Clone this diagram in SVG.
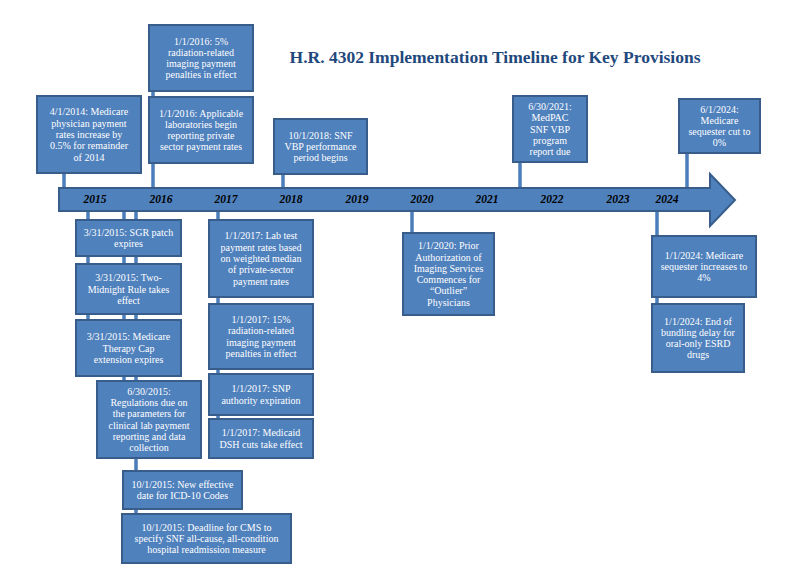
<svg xmlns="http://www.w3.org/2000/svg" width="788" height="576" viewBox="0 0 788 576">
<style>
.bg{fill:#ffffff}
.box{fill:#4F81BD;stroke:#385D8A;stroke-width:2}
.t{font-family:"Liberation Serif","Times New Roman",serif;font-size:10px;fill:#ffffff;text-anchor:middle}
.yr{font-family:"Liberation Serif","Times New Roman",serif;font-size:11.5px;font-weight:bold;font-style:italic;fill:#000000;text-anchor:middle}
.title{font-family:"Liberation Serif","Times New Roman",serif;font-size:17.5px;font-weight:bold;fill:#1F497D;text-anchor:middle}
.conn line{stroke:#4A7DBA;stroke-width:3.5}
.arrow{fill:#4F81BD;stroke:#385D8A;stroke-width:2}
</style>
<rect class="bg" x="0" y="0" width="788" height="576"/>
<text class="title" x="495" y="63">H.R. 4302 Implementation Timeline for Key Provisions</text>
<g id="connectors" class="conn">
<line x1="64" y1="173" x2="64" y2="190"/>
<line x1="153" y1="91" x2="153" y2="190"/>
<line x1="283" y1="174" x2="283" y2="190"/>
<line x1="520" y1="162" x2="520" y2="190"/>
<line x1="687" y1="153" x2="687" y2="190"/>
<line x1="88" y1="209" x2="88" y2="320"/>
<line x1="124" y1="209" x2="124" y2="381"/>
<line x1="136" y1="209" x2="136" y2="514"/>
<line x1="218" y1="209" x2="218" y2="419"/>
<line x1="412" y1="209" x2="412" y2="233"/>
<line x1="657" y1="209" x2="657" y2="304"/>
</g>
<g id="timeline">
<path class="arrow" d="M59,188 L710,188 L710,174 L735,200 L710,226 L710,211 L59,211 Z"/>
<text class="yr" x="95" y="203">2015</text>
<text class="yr" x="161" y="203">2016</text>
<text class="yr" x="226" y="203">2017</text>
<text class="yr" x="291" y="203">2018</text>
<text class="yr" x="357" y="203">2019</text>
<text class="yr" x="422" y="203">2020</text>
<text class="yr" x="487" y="203">2021</text>
<text class="yr" x="552" y="203">2022</text>
<text class="yr" x="618" y="203">2023</text>
<text class="yr" x="667" y="203">2024</text>
</g>
<g id="n2014">
<rect class="box" x="37" y="96" width="104" height="77"/>
<text class="t"><tspan x="89" y="115.4">4/1/2014: Medicare</tspan><tspan x="89" y="126.7">physician payment</tspan><tspan x="89" y="138">rates increase by</tspan><tspan x="89" y="149.3">0.5% for remainder</tspan><tspan x="89" y="160.6">of 2014</tspan></text>
</g>
<g id="n2016a">
<rect class="box" x="149" y="25" width="104" height="66"/>
<text class="t"><tspan x="201" y="44.55">1/1/2016: 5%</tspan><tspan x="201" y="55.85">radiation-related</tspan><tspan x="201" y="67.15">imaging payment</tspan><tspan x="201" y="78.45">penalties in effect</tspan></text>
</g>
<g id="n2016b">
<rect class="box" x="149" y="97" width="104" height="66"/>
<text class="t"><tspan x="201" y="116.55">1/1/2016: Applicable</tspan><tspan x="201" y="127.85">laboratories begin</tspan><tspan x="201" y="139.15">reporting private</tspan><tspan x="201" y="150.45">sector payment rates</tspan></text>
</g>
<g id="n2018">
<rect class="box" x="274" y="119" width="93" height="55"/>
<text class="t"><tspan x="320.5" y="138.7">10/1/2018: SNF</tspan><tspan x="320.5" y="150">VBP performance</tspan><tspan x="320.5" y="161.3">period begins</tspan></text>
</g>
<g id="n2021">
<rect class="box" x="513" y="96" width="74" height="66"/>
<text class="t"><tspan x="550" y="109.9">6/30/2021:</tspan><tspan x="550" y="121.2">MedPAC</tspan><tspan x="550" y="132.5">SNF VBP</tspan><tspan x="550" y="143.8">program</tspan><tspan x="550" y="155.1">report due</tspan></text>
</g>
<g id="n2024a">
<rect class="box" x="679" y="99" width="81" height="54"/>
<text class="t"><tspan x="719.5" y="112.55">6/1/2024:</tspan><tspan x="719.5" y="123.85">Medicare</tspan><tspan x="719.5" y="135.15">sequester cut to</tspan><tspan x="719.5" y="146.45">0%</tspan></text>
</g>
<g id="nsgr">
<rect class="box" x="76" y="220" width="105" height="36"/>
<text class="t"><tspan x="128.5" y="235.85">3/31/2015: SGR patch</tspan><tspan x="128.5" y="247.15">expires</tspan></text>
</g>
<g id="ntwomid">
<rect class="box" x="76" y="264" width="105" height="50"/>
<text class="t"><tspan x="128.5" y="281.2">3/31/2015: Two-</tspan><tspan x="128.5" y="292.5">Midnight Rule takes</tspan><tspan x="128.5" y="303.8">effect</tspan></text>
</g>
<g id="ntherapy">
<rect class="box" x="76" y="320" width="105" height="56"/>
<text class="t"><tspan x="128.5" y="340.2">3/31/2015: Medicare</tspan><tspan x="128.5" y="351.5">Therapy Cap</tspan><tspan x="128.5" y="362.8">extension expires</tspan></text>
</g>
<g id="nregs">
<rect class="box" x="97" y="381" width="104" height="77"/>
<text class="t"><tspan x="149" y="394.75">6/30/2015:</tspan><tspan x="149" y="406.05">Regulations due on</tspan><tspan x="149" y="417.35">the parameters for</tspan><tspan x="149" y="428.65">clinical lab payment</tspan><tspan x="149" y="439.95">reporting and data</tspan><tspan x="149" y="451.25">collection</tspan></text>
</g>
<g id="nicd">
<rect class="box" x="123" y="471" width="119" height="38"/>
<text class="t"><tspan x="182.5" y="487.85">10/1/2015: New effective</tspan><tspan x="182.5" y="499.15">date for ICD-10 Codes</tspan></text>
</g>
<g id="ndeadline">
<rect class="box" x="122" y="514" width="169" height="49"/>
<text class="t"><tspan x="206.5" y="530.7">10/1/2015: Deadline for CMS to</tspan><tspan x="206.5" y="542">specify SNF all-cause, all-condition</tspan><tspan x="206.5" y="553.3">hospital readmission measure</tspan></text>
</g>
<g id="nlab">
<rect class="box" x="209" y="220" width="104" height="77"/>
<text class="t"><tspan x="261" y="239.4">1/1/2017: Lab test</tspan><tspan x="261" y="250.7">payment rates based</tspan><tspan x="261" y="262">on weighted median</tspan><tspan x="261" y="273.3">of private-sector</tspan><tspan x="261" y="284.6">payment rates</tspan></text>
</g>
<g id="nrad15">
<rect class="box" x="209" y="304" width="104" height="65"/>
<text class="t"><tspan x="261" y="323.05">1/1/2017: 15%</tspan><tspan x="261" y="334.35">radiation-related</tspan><tspan x="261" y="345.65">imaging payment</tspan><tspan x="261" y="356.95">penalties in effect</tspan></text>
</g>
<g id="nsnp">
<rect class="box" x="209" y="374" width="104" height="41"/>
<text class="t"><tspan x="261" y="392.35">1/1/2017: SNP</tspan><tspan x="261" y="403.65">authority expiration</tspan></text>
</g>
<g id="nmedicaid">
<rect class="box" x="209" y="419" width="104" height="39"/>
<text class="t"><tspan x="261" y="436.35">1/1/2017: Medicaid</tspan><tspan x="261" y="447.65">DSH cuts take effect</tspan></text>
</g>
<g id="nprior">
<rect class="box" x="403" y="233" width="91" height="82"/>
<text class="t"><tspan x="448.5" y="249.25">1/1/2020: Prior</tspan><tspan x="448.5" y="260.55">Authorization of</tspan><tspan x="448.5" y="271.85">Imaging Services</tspan><tspan x="448.5" y="283.15">Commences for</tspan><tspan x="448.5" y="294.45">“Outlier”</tspan><tspan x="448.5" y="305.75">Physicians</tspan></text>
</g>
<g id="nseq4">
<rect class="box" x="652" y="236" width="104" height="61"/>
<text class="t"><tspan x="704" y="258.7">1/1/2024: Medicare</tspan><tspan x="704" y="270">sequester increases to</tspan><tspan x="704" y="281.3">4%</tspan></text>
</g>
<g id="nbundling">
<rect class="box" x="652" y="304" width="92" height="68"/>
<text class="t"><tspan x="698" y="324.55">1/1/2024: End of</tspan><tspan x="698" y="335.85">bundling delay for</tspan><tspan x="698" y="347.15">oral-only ESRD</tspan><tspan x="698" y="358.45">drugs</tspan></text>
</g>
</svg>
